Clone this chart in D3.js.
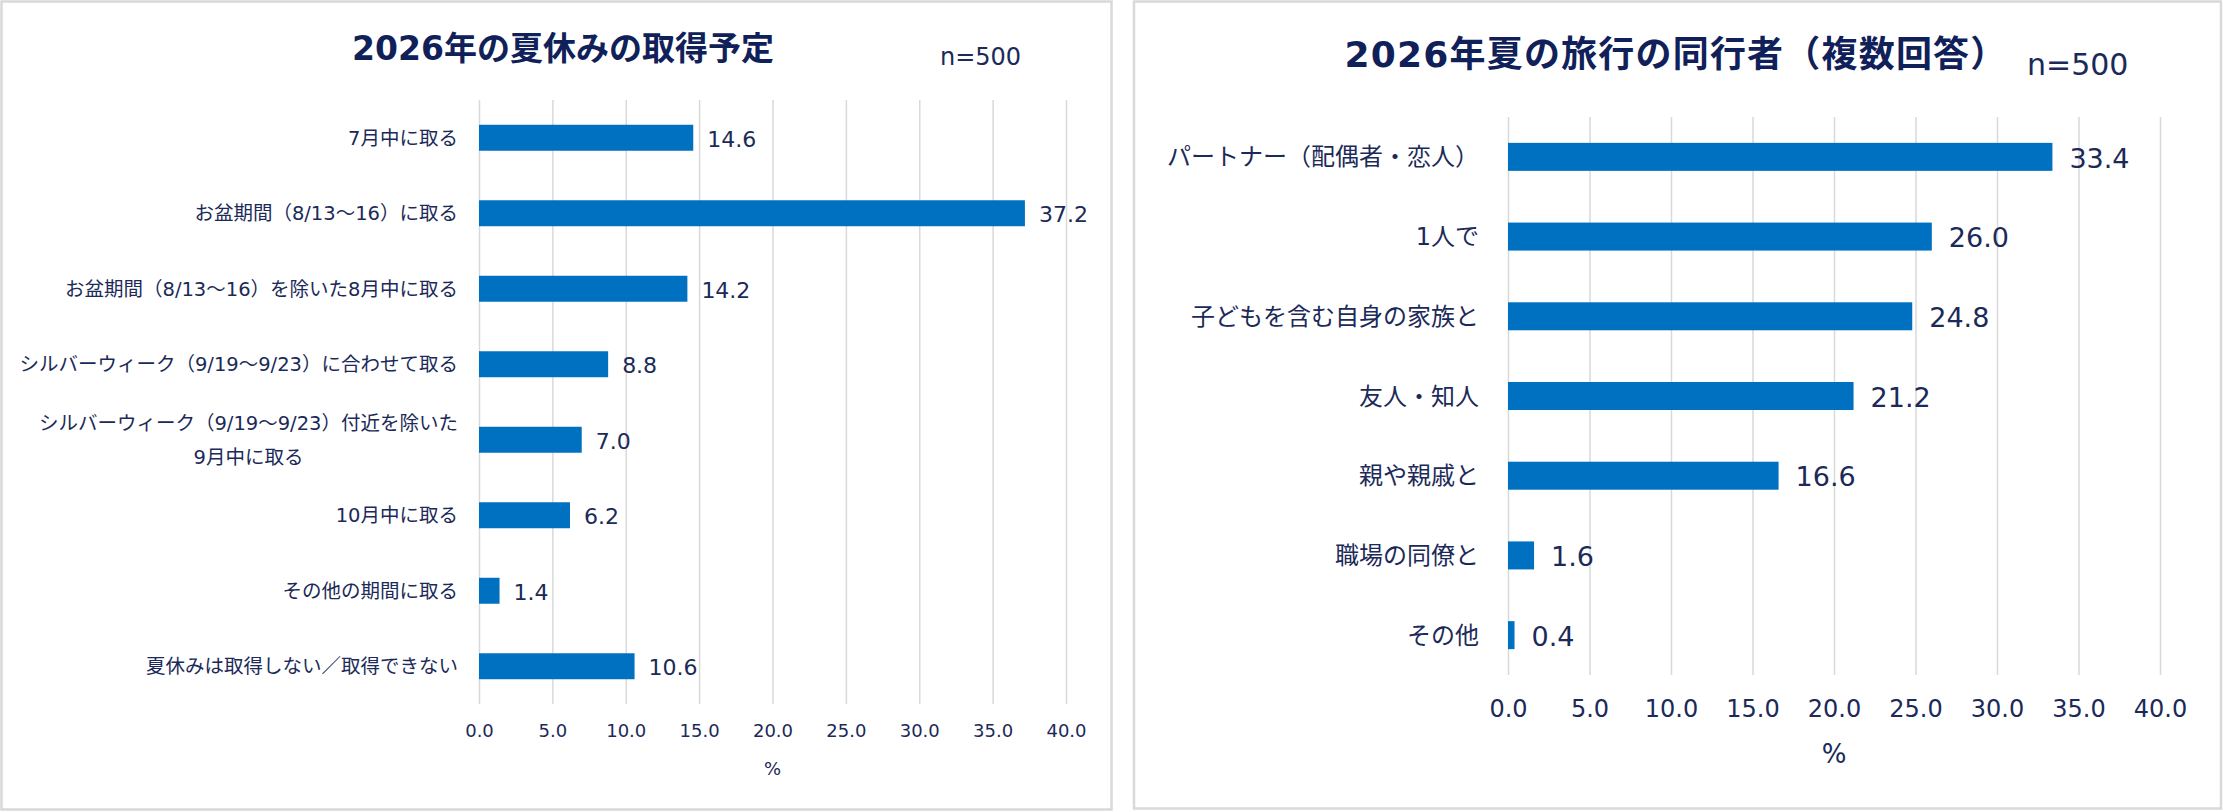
<!DOCTYPE html>
<meta charset="utf-8">
<script src="https://d3js.org/d3.v7.min.js"></script>
<style>
body { margin:0; background:#fff; }
svg { display:block; }
text { fill:#1b2a58; font-family:"DejaVu Sans","Noto Sans CJK JP",sans-serif; }
.title { font-weight:bold; fill:#10215a; }
.grid line { stroke:#d9d9d9; stroke-width:1.5; }
.grid path, .ticks path { stroke:none; }
.bar { fill:#0070c0; }
.panel { fill:#fff; stroke:#d9d9d9; stroke-width:2.5; }
</style>
<body>
</body>
<script>

// data
var leftTitle = "2026年の夏休みの取得予定";
var leftCategories = [
  "7月中に取る",
  "お盆期間（8/13～16）に取る",
  "お盆期間（8/13～16）を除いた8月中に取る",
  "シルバーウィーク（9/19～9/23）に合わせて取る",
  "シルバーウィーク（9/19～9/23）付近を除いた\n9月中に取る",
  "10月中に取る",
  "その他の期間に取る",
  "夏休みは取得しない／取得できない"
];
var leftValues = [14.6, 37.2, 14.2, 8.8, 7.0, 6.2, 1.4, 10.6];

var rightTitle = "2026年夏の旅行の同行者（複数回答）";
var rightCategories = [
  "パートナー（配偶者・恋人）",
  "1人で",
  "子どもを含む自身の家族と",
  "友人・知人",
  "親や親戚と",
  "職場の同僚と",
  "その他"
];
var rightValues = [33.4, 26.0, 24.8, 21.2, 16.6, 1.6, 0.4];

var xTicks = [0, 5, 10, 15, 20, 25, 30, 35, 40];
var sampleLabel = "n=500";
var unitLabel = "%";

var svg = d3.select("body").append("svg")
  .attr("width", 2223)
  .attr("height", 812);

function drawPanel(cats, vals, title, o) {
  var g = svg.append("g");

  g.append("rect").attr("class", "panel")
    .attr("x", o.box[0]).attr("y", o.box[1])
    .attr("width", o.box[2]).attr("height", o.box[3]);

  var x = d3.scaleLinear().domain([0, 40]).range([o.x0, o.x1]);
  var y = d3.scaleBand().domain(cats).range([o.y0, o.y1])
    .paddingInner(o.pad).paddingOuter(o.pad / 2);

  // gridlines
  g.append("g")
    .attr("class", "grid")
    .attr("transform", "translate(0," + o.y1 + ")")
    .call(d3.axisBottom(x).tickValues(xTicks).tickSize(-(o.y1 - o.y0)).tickFormat(""));

  // tick labels
  var ax = g.append("g")
    .attr("class", "ticks")
    .attr("transform", "translate(0," + o.y1 + ")")
    .call(d3.axisBottom(x).tickValues(xTicks).tickSize(0).tickPadding(o.tickPad).tickFormat(d3.format(".1f")));
  ax.selectAll("text").style("font-size", o.tickFont + "px").style("fill", "#1b2a58")
    .style("font-family", '"DejaVu Sans","Noto Sans CJK JP",sans-serif');

  g.append("text")
    .attr("x", (o.x0 + o.x1) / 2).attr("y", o.unitY)
    .attr("text-anchor", "middle")
    .style("font-size", o.unitFont + "px")
    .text(unitLabel);

  // bars
  g.selectAll(".bar")
    .data(cats).enter().append("rect")
    .attr("class", "bar")
    .attr("x", x(0))
    .attr("y", function(d) { return y(d); })
    .attr("width", function(d, i) { return x(vals[i]) - x(0); })
    .attr("height", y.bandwidth());

  // value labels
  g.selectAll(".val")
    .data(cats).enter().append("text")
    .attr("class", "val")
    .attr("x", function(d, i) { return x(vals[i]) + o.valGap; })
    .attr("y", function(d) { return y(d) + y.bandwidth() / 2 + o.valFont * 0.36 + 1; })
    .style("font-size", o.valFont + "px")
    .text(function(d, i) { return vals[i].toFixed(1); });

  // category labels
  var lab = g.selectAll(".cat")
    .data(cats).enter().append("text")
    .attr("class", "cat")
    .attr("text-anchor", "end")
    .attr("x", o.labelX)
    .attr("y", function(d) { return y(d) + y.bandwidth() / 2 + o.labelFont * 0.36; })
    .style("font-size", o.labelFont + "px");

  lab.each(function(d) {
    var lines = d.split("\n");
    var t = d3.select(this);
    if (lines.length == 1) { t.text(d); return; }
    // wrapped label: lines centred on each other, block right aligned
    var cy = +t.attr("y");
    t.attr("y", null);
    var tmp = lines.map(function(l) {
      return t.append("tspan").text(l);
    });
    var w = tmp.map(function(s) { return s.node().getComputedTextLength(); });
    var wMax = d3.max(w);
    tmp.forEach(function(s, i) {
      s.attr("text-anchor", "middle")
        .attr("x", o.labelX - wMax / 2)
        .attr("y", cy + (i - (lines.length - 1) / 2) * o.lineGap);
    });
    t.attr("text-anchor", "middle");
  });

  g.append("text")
    .attr("class", "title")
    .attr("x", o.titleX).attr("y", o.titleY)
    .attr("text-anchor", "middle")
    .style("font-size", o.titleFont + "px")
    .style("letter-spacing", o.titleSpacing + "px")
    .text(title);

  g.append("text")
    .attr("x", o.nX).attr("y", o.nY)
    .style("font-size", o.nFont + "px")
    .text(sampleLabel);
}

drawPanel(leftCategories, leftValues, leftTitle, {
  box: [1.5, 1.5, 1110, 808],
  x0: 479, x1: 1066, y0: 100, y1: 704, pad: 0.656,
  tickPad: 20, tickFont: 18, unitY: 775, unitFont: 18,
  valGap: 14, valFont: 22,
  labelX: 458, labelFont: 19.5, lineGap: 34,
  titleX: 563, titleY: 60, titleFont: 33, titleSpacing: 0,
  nX: 940, nY: 65, nFont: 24
});

drawPanel(rightCategories, rightValues, rightTitle, {
  box: [1134, 1.5, 1087, 807],
  x0: 1508, x1: 2160, y0: 117, y1: 675, pad: 0.649,
  tickPad: 25, tickFont: 24, unitY: 763, unitFont: 26,
  valGap: 17, valFont: 27,
  labelX: 1479, labelFont: 24, lineGap: 34,
  titleX: 1676, titleY: 67, titleFont: 36, titleSpacing: 1.2,
  nX: 2027, nY: 75, nFont: 30
});

</script>
